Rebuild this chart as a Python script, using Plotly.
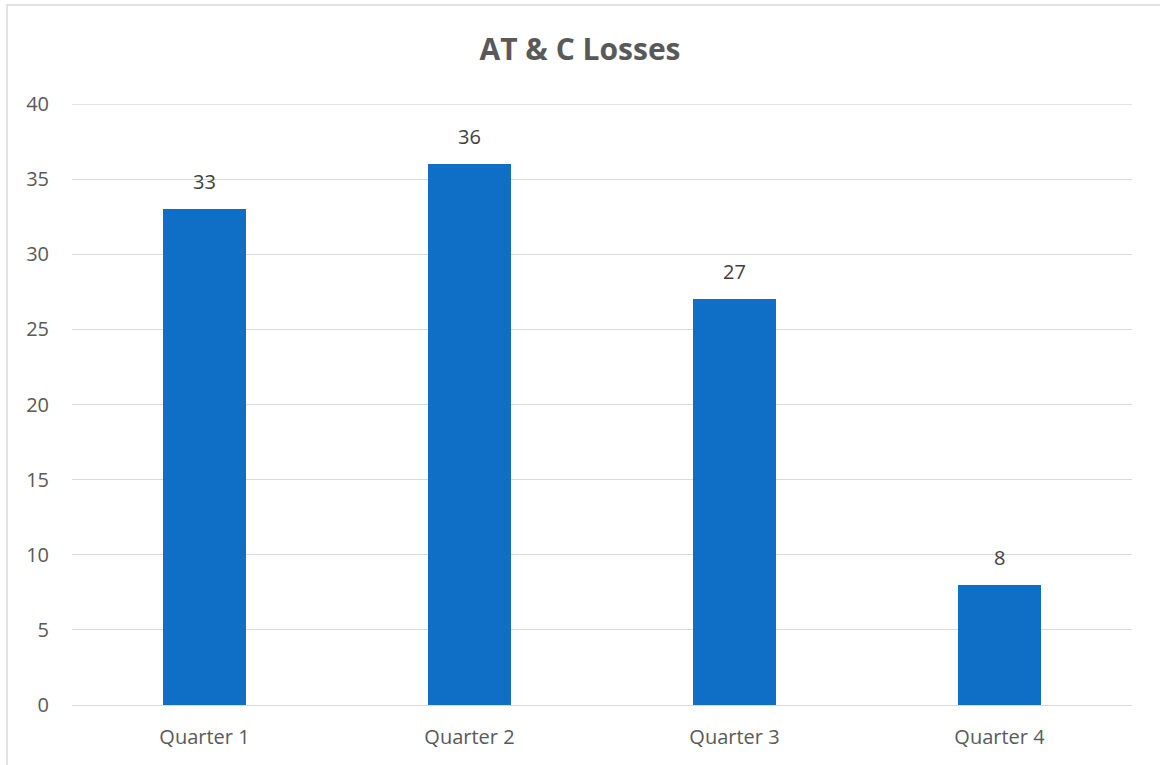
import plotly.graph_objects as go

categories = ["Quarter 1", "Quarter 2", "Quarter 3", "Quarter 4"]
values = [33, 36, 27, 8]
y_ticks = [0, 5, 10, 15, 20, 25, 30, 35, 40]

W, H = 1160, 765
L, R, T, B = 72, 28, 104, 60
pw, ph = W - L - R, H - T - B

fig = go.Figure(go.Bar(
    x=categories, y=values, width=0.313,
    marker=dict(color="#0F6FC6", line=dict(width=0)),
    hoverinfo="skip",
))

for c, v in zip(categories, values):
    fig.add_annotation(x=c, y=v, text=str(v), showarrow=False,
                       xanchor="center", yanchor="bottom", yshift=12,
                       font=dict(family="Open Sans", size=20, color="#404040"))

fig.update_layout(
    width=W, height=H,
    margin=dict(l=L, r=R, t=T, b=B),
    paper_bgcolor="white", plot_bgcolor="white",
    title=dict(text="<b>AT & C Losses</b>", x=0.5, xanchor="center",
               y=1 - 49 / H, yanchor="middle",
               font=dict(family="Open Sans", size=30, color="#595959")),
    font=dict(family="Open Sans", color="#595959", size=20),
    showlegend=False,
    bargap=0,
    xaxis=dict(showgrid=False, showline=False, ticks="", ticklabelstandoff=18,
               tickfont=dict(size=20, color="#595959")),
    yaxis=dict(range=[0, 40], tickvals=y_ticks, showgrid=True,
               gridcolor="#D9D9D9", gridwidth=1.3, zeroline=True,
               zerolinecolor="#D9D9D9", zerolinewidth=1.3, showline=False,
               ticks="", ticklabelstandoff=22,
               tickfont=dict(size=20, color="#595959")),
)

# top gridline at the range edge
fig.add_shape(type="line", xref="paper", yref="y", x0=0, x1=1,
              y0=y_ticks[-1], y1=y_ticks[-1],
              line=dict(color="#D9D9D9", width=1.3), layer="below")

# outer chart border
x0 = (7 - L) / pw
y1 = (H - B - 5) / ph
fig.add_shape(type="rect", xref="paper", yref="paper",
              x0=x0, x1=1.2, y0=-0.2, y1=y1,
              line=dict(color="#D9D9D9", width=1.5), layer="below")

fig.write_html("out.html")
